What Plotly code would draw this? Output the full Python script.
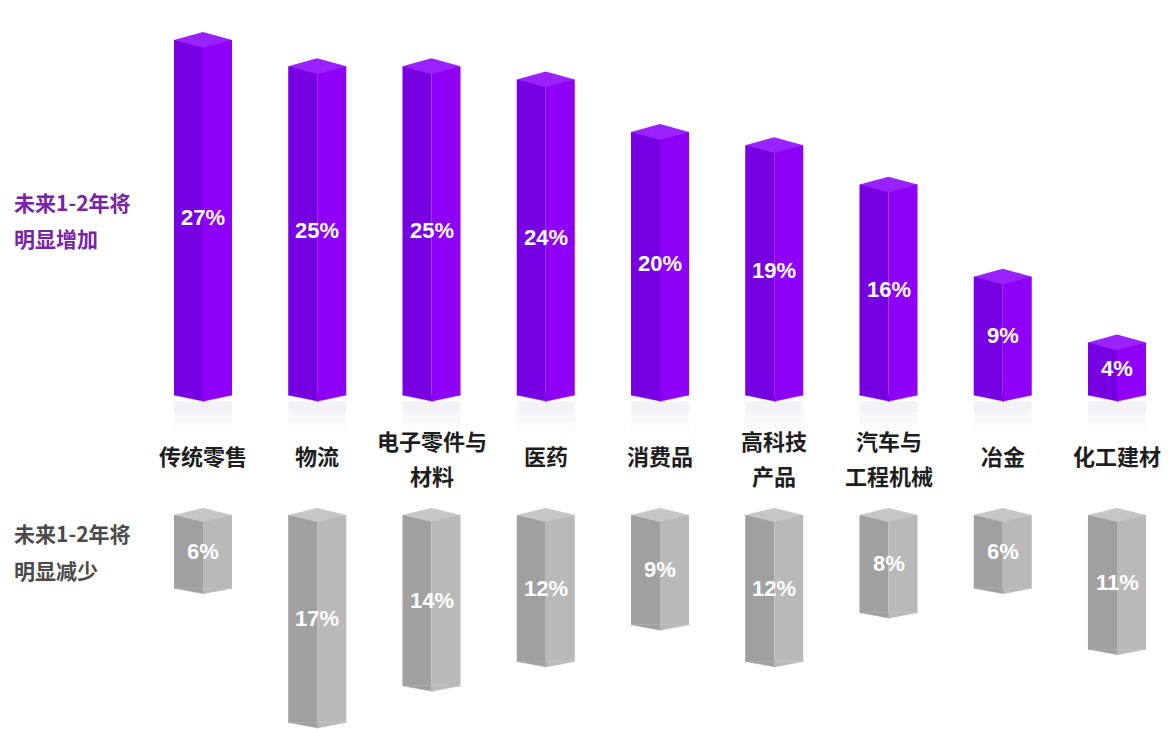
import plotly.graph_objects as go

categories = ["传统零售", "物流", "电子零件与<br>材料", "医药", "消费品", "高科技<br>产品", "汽车与<br>工程机械", "冶金", "化工建材"]
increase = [27, 25, 25, 24, 20, 19, 16, 9, 4]
decrease = [6, 17, 14, 12, 9, 12, 8, 6, 11]
label_increase = ["未来1-2年将", "明显增加"]
label_decrease = ["未来1-2年将", "明显减少"]

W, H = 1171, 729
x = list(range(len(categories)))
hw = 0.254          # half bar width (x units)
cap_up = 0.6        # cap depth, top axis units
cap_dn = 0.57       # cap depth, bottom axis units

P_LEFT, P_RIGHT, P_TOP = "#7700e2", "#8f00f6", "#9a22ff"
G_LEFT, G_RIGHT, G_TOP = "#a0a0a0", "#b9b9b9", "#c6c6c6"

fig = go.Figure()

def add_prism(xa, ya, vals, left, right, top, sign):
    fig.add_trace(go.Bar(x=x, y=vals, base=0, width=hw, offset=-hw, marker_color=left,
                         marker_line_width=0, xaxis=xa, yaxis=ya, hoverinfo="skip"))
    fig.add_trace(go.Bar(x=x, y=vals, base=0, width=hw, offset=0, marker_color=right,
                         marker_line_width=0, xaxis=xa, yaxis=ya, hoverinfo="skip"))
    c = cap_up if sign > 0 else cap_dn
    dx, dy = [], []
    for xi, v in zip(x, vals):
        t = v if sign > 0 else 0
        s = 1 if sign > 0 else -1
        dx += [xi - hw, xi, xi + hw, xi, xi - hw, None]
        dy += [t, t + c * s, t, t - c * s, t, None]
    fig.add_trace(go.Scatter(x=dx, y=dy, mode="lines", fill="toself", fillcolor=top,
                             line=dict(width=0, color=top), xaxis=xa, yaxis=ya, hoverinfo="skip"))
    lx, ly, rx, ry = [], [], [], []
    for xi, v in zip(x, vals):
        b = 0 if sign > 0 else v
        d = -c * 0.8 if sign > 0 else c * 0.8
        lx += [xi - hw, xi + 0.01, xi + 0.01, xi - hw, None]
        ly += [b, b, b + d, b, None]
        rx += [xi, xi + hw, xi, xi, None]
        ry += [b, b, b + d, b, None]
    fig.add_trace(go.Scatter(x=lx, y=ly, mode="lines", fill="toself", fillcolor=left,
                             line=dict(width=0.5, color=left), xaxis=xa, yaxis=ya, hoverinfo="skip"))
    fig.add_trace(go.Scatter(x=rx, y=ry, mode="lines", fill="toself", fillcolor=right,
                             line=dict(width=0.5, color=right), xaxis=xa, yaxis=ya, hoverinfo="skip"))

# faint reflection under purple bars
for k, a in enumerate([0.35, 0.22, 0.12]):
    fig.add_trace(go.Bar(x=x, y=[-0.8] * len(x), base=-0.5 - 0.8 * k, width=2 * hw,
                         marker_color=f"rgba(222,218,232,{a})",
                         marker_line_width=0, xaxis="x", yaxis="y", hoverinfo="skip"))

add_prism("x", "y", increase, P_LEFT, P_RIGHT, P_TOP, 1)
add_prism("x2", "y2", decrease, G_LEFT, G_RIGHT, G_TOP, -1)

ann = []
pct_font = dict(family="Liberation Sans", size=22, color="white", weight="bold")
for xi, v in zip(x, increase):
    ann.append(dict(x=xi, y=v / 2, xref="x", yref="y", text=f"{v}%", showarrow=False, font=pct_font))
for xi, v in zip(x, decrease):
    ann.append(dict(x=xi, y=v / 2, xref="x2", yref="y2", text=f"{v}%", showarrow=False, font=pct_font))

cat_font = dict(family="Noto Sans CJK SC", size=22, color="#1e1e1e", weight="bold")
for xi, c in zip(x, categories):
    lines = c.split("<br>")
    ys = [455] if len(lines) == 1 else [440, 475]
    for ln, ypx in zip(lines, ys):
        ann.append(dict(x=xi, y=1 - ypx / H, xref="x", yref="paper", text=ln, showarrow=False,
                        yanchor="middle", font=cat_font))

for ln, ypx in zip(label_increase, [202, 238]):
    ann.append(dict(x=12 / W, y=1 - ypx / H, xref="paper", yref="paper", text=ln, showarrow=False,
                    xanchor="left", yanchor="middle",
                    font=dict(family="Noto Sans CJK SC", size=21, color="#7a22a8", weight="bold")))
for ln, ypx in zip(label_decrease, [533, 570]):
    ann.append(dict(x=12 / W, y=1 - ypx / H, xref="paper", yref="paper", text=ln, showarrow=False,
                    xanchor="left", yanchor="middle",
                    font=dict(family="Noto Sans CJK SC", size=21, color="#4a4a4a", weight="bold")))

x0 = 203
ppu = 114.25
xr = [-x0 / ppu, (W - x0) / ppu]
s_top, base_top = 13.15, 395
s_bot, base_bot = 12.2, 515
top_dom_px = 430
bot_dom_px = 480

fig.update_layout(
    width=W, height=H, margin=dict(l=0, r=0, t=0, b=0),
    paper_bgcolor="white", plot_bgcolor="white", showlegend=False, barmode="overlay",
    xaxis=dict(range=xr, visible=False, anchor="y", fixedrange=True),
    xaxis2=dict(range=xr, visible=False, anchor="y2", matches="x"),
    yaxis=dict(domain=[1 - top_dom_px / H, 1], range=[-(top_dom_px - base_top) / s_top, base_top / s_top],
               visible=False),
    yaxis2=dict(domain=[0, 1 - bot_dom_px / H],
                range=[(H - base_bot) / s_bot, -(base_bot - bot_dom_px) / s_bot], visible=False),
    annotations=ann,
)

fig.write_html("out.html")
